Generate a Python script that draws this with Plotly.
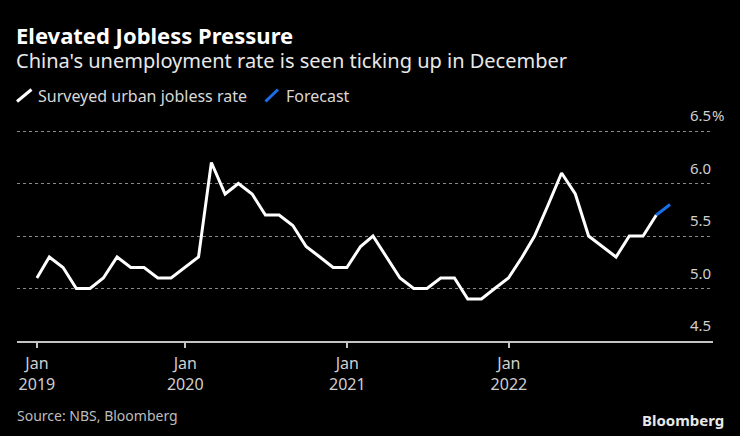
import pandas as pd
import plotly.graph_objects as go

# ---- data ----
months = pd.date_range("2019-01-31", "2022-11-30", freq="ME")
jobless_rate = [
    5.1, 5.3, 5.2, 5.0, 5.0, 5.1, 5.3, 5.2, 5.2, 5.1, 5.1, 5.2,   # 2019
    5.3, 6.2, 5.9, 6.0, 5.9, 5.7, 5.7, 5.6, 5.4, 5.3, 5.2, 5.2,   # 2020
    5.4, 5.5, 5.3, 5.1, 5.0, 5.0, 5.1, 5.1, 4.9, 4.9, 5.0, 5.1,   # 2021
    5.3, 5.5, 5.8, 6.1, 5.9, 5.5, 5.4, 5.3, 5.5, 5.5, 5.7,        # 2022
]
forecast_dates = ["2022-11-30", "2022-12-31"]
forecast_values = [5.7, 5.8]

x_tick_vals = ["2019-01-31", "2020-01-01", "2021-01-01", "2022-01-01"]
x_tick_text = ["Jan<br>2019", "Jan<br>2020", "Jan<br>2021", "Jan<br>2022"]
y_tick_vals = [4.5, 5.0, 5.5, 6.0, 6.5]
y_tick_text = ["4.5", "5.0", "5.5", "6.0", "6.5"]

# ---- layout geometry (pixels) ----
W, H = 740, 436
ML, MR, MT, MB = 17, 27, 126, 95
PW, PH = W - ML - MR, H - MT - MB
Y_TOP = 4.5 + PH / 105.0   # keeps 0.5 units = 52.5 px, 6.5 at y=131


def px(x):
    return (x - ML) / PW


def py(y):
    return (H - MB - y) / PH


FONT = "Noto Sans"
fig = go.Figure()

fig.add_trace(go.Scatter(
    x=months, y=jobless_rate, mode="lines",
    line=dict(color="#ffffff", width=3), name="Surveyed urban jobless rate",
    showlegend=False, hoverinfo="skip",
))
fig.add_trace(go.Scatter(
    x=pd.to_datetime(forecast_dates), y=forecast_values, mode="lines",
    line=dict(color="#1a6ee8", width=3), name="Forecast", showlegend=False,
    hoverinfo="skip",
))

annotations = []
# y tick labels
for v, t in zip(y_tick_vals, y_tick_text):
    annotations.append(dict(
        x=1, xref="paper", y=v, yref="y", text=t, showarrow=False,
        xanchor="right", yanchor="middle", yshift=16,
        font=dict(family=FONT, size=15, color="#cfcfcf"),
    ))
annotations.append(dict(
    x=1, xref="paper", y=y_tick_vals[-1], yref="y", text="%", showarrow=False,
    xanchor="left", yanchor="middle", yshift=16, xshift=-3,
    font=dict(family=FONT, size=15, color="#cfcfcf"),
))

# titles
annotations += [
    dict(x=px(14), y=py(35), xref="paper", yref="paper", xanchor="left", yanchor="middle",
         text="<b>Elevated Jobless Pressure</b>", showarrow=False,
         font=dict(family=FONT, size=22, color="#ffffff")),
    dict(x=px(14), y=py(61), xref="paper", yref="paper", xanchor="left", yanchor="middle",
         text="China's unemployment rate is seen ticking up in December", showarrow=False,
         font=dict(family=FONT, size=20, color="#e8e8e8")),
    dict(x=px(36), y=py(96), xref="paper", yref="paper", xanchor="left", yanchor="middle",
         text="Surveyed urban jobless rate", showarrow=False,
         font=dict(family=FONT, size=16, color="#d8d8d8")),
    dict(x=px(284), y=py(96), xref="paper", yref="paper", xanchor="left", yanchor="middle",
         text="Forecast", showarrow=False,
         font=dict(family=FONT, size=16, color="#d8d8d8")),
    dict(x=px(15), y=py(415), xref="paper", yref="paper", xanchor="left", yanchor="middle",
         text="Source: NBS, Bloomberg", showarrow=False,
         font=dict(family=FONT, size=14, color="#bdbdbd")),
    dict(x=px(726), y=py(420), xref="paper", yref="paper", xanchor="right", yanchor="middle",
         text="<b>Bloomberg</b>", showarrow=False,
         font=dict(family=FONT, size=15, color="#e8e8e8")),
]

shapes = [
    dict(type="line", xref="paper", yref="paper",
         x0=px(17), y0=py(101.5), x1=px(31.5), y1=py(89.5),
         line=dict(color="#ffffff", width=3)),
    dict(type="line", xref="paper", yref="paper",
         x0=px(265.5), y0=py(101.5), x1=px(278), y1=py(89.5),
         line=dict(color="#1a6ee8", width=3)),
]

fig.update_layout(
    width=W, height=H,
    margin=dict(l=ML, r=MR, t=MT, b=MB, pad=0),
    paper_bgcolor="#000000", plot_bgcolor="#000000",
    showlegend=False, hovermode=False,
    annotations=annotations, shapes=shapes,
    xaxis=dict(
        type="date", range=["2018-12-17", "2023-04-07"],
        tickmode="array", tickvals=x_tick_vals, ticktext=x_tick_text,
        showgrid=False, zeroline=False,
        showline=True, linecolor="#c4c4c4", linewidth=1.5,
        ticks="outside", ticklen=5, tickcolor="#c4c4c4", tickwidth=1.5,
        ticklabelstandoff=2,
        tickfont=dict(family=FONT, size=16, color="#cfcfcf"),
    ),
    yaxis=dict(
        range=[4.5, Y_TOP], side="right",
        tickmode="array", tickvals=y_tick_vals[1:],
        showticklabels=False, ticks="",
        showgrid=True, gridcolor="#8a8a8a", gridwidth=1, griddash="dot",
        zeroline=False, showline=False,
    ),
)

fig.write_html("out.html", config={"displayModeBar": False},
               post_script="document.body.style.margin='0px';")
